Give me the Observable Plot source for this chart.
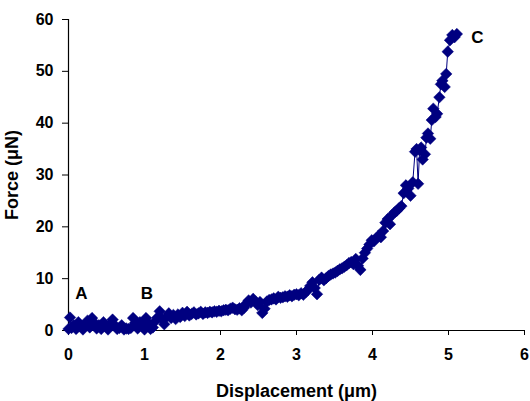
<!DOCTYPE html>
<html>
<head>
<meta charset="utf-8">
<script src="https://cdn.jsdelivr.net/npm/d3@7"></script>
<script src="https://cdn.jsdelivr.net/npm/@observablehq/plot@0.6"></script>
<style>
  html, body { margin: 0; padding: 0; background: #fff; }
  #chart svg { display: block; }
</style>
</head>
<body>
<div id="chart"></div>
<script>
const displacement = [
  0.00,0.02,0.04,0.07,0.10,0.13,0.16,0.19,0.22,0.25,0.28,0.31,0.34,0.37,0.40,0.43,0.46,0.49,0.52,0.55,
  0.58,0.61,0.64,0.67,0.70,0.73,0.76,0.79,0.82,0.85,0.88,0.91,0.94,0.97,1.00,1.02,1.05,1.08,1.11,1.14,
  1.17,1.20,1.23,1.26,1.29,1.32,1.35,1.38,1.41,1.44,1.47,1.50,1.53,1.56,1.59,1.62,1.65,1.68,1.71,1.74,
  1.77,1.80,1.83,1.86,1.89,1.92,1.95,1.98,2.01,2.04,2.07,2.10,2.13,2.16,2.19,2.22,2.25,2.28,2.31,2.34,
  2.37,2.40,2.43,2.46,2.49,2.52,2.55,2.58,2.61,2.64,2.67,2.70,2.73,2.76,2.79,2.82,2.85,2.88,2.91,2.94,
  2.97,3.00,3.03,3.06,3.09,3.12,3.15,3.18,3.21,3.24,3.27,3.30,3.33,3.36,3.39,3.42,3.45,3.48,3.51,3.54,
  3.57,3.60,3.63,3.66,3.69,3.72,3.75,3.78,3.81,3.84,3.87,3.90,3.93,3.96,3.99,4.02,4.05,4.08,4.11,4.14,
  4.17,4.20,4.23,4.26,4.29,4.32,4.35,4.38,4.41,4.44,4.47,4.50,4.53,4.56,4.58,4.60,4.62,4.64,4.66,4.69,
  4.71,4.73,4.76,4.78,4.80,4.83,4.85,4.88,4.90,4.92,4.95,4.97,4.99,5.02,5.05,5.08,5.11
];
const force = [
  0.3,2.5,0.5,1.0,0.3,1.6,0.8,0.2,1.2,1.9,0.6,2.4,1.5,0.4,1.0,0.3,1.6,0.8,0.2,1.2,
  2.1,1.0,0.3,0.5,1.0,0.2,0.4,0.3,0.5,2.4,1.5,0.4,1.6,0.8,0.2,2.4,1.4,0.3,0.6,1.8,
  2.5,3.7,2.2,1.2,2.6,3.3,2.4,3.0,2.2,3.1,2.6,3.4,2.8,3.6,2.9,3.2,3.5,3.1,3.3,3.6,
  3.2,3.5,3.4,3.6,3.5,3.7,3.6,3.8,3.7,3.9,4.0,3.9,4.2,4.4,4.1,4.0,4.3,3.9,4.4,5.2,
  5.8,5.4,6.1,5.6,4.9,5.5,3.4,4.2,5.6,5.9,6.0,6.2,6.0,6.5,6.3,6.4,6.6,6.5,6.8,6.6,
  6.9,7.0,6.8,7.2,6.9,7.4,7.8,8.6,9.3,8.2,7.0,9.8,10.2,9.7,10.1,10.5,10.8,11.0,11.2,11.5,
  11.8,12.0,12.3,12.6,13.0,13.2,12.8,13.8,12.5,11.7,13.9,15.0,15.8,16.6,17.4,17.2,17.8,18.3,18.0,19.2,
  20.8,21.5,20.5,22.3,22.8,23.1,23.6,24.0,26.5,28.0,27.4,26.0,28.6,34.5,35.0,28.3,34.8,35.3,33.0,34.0,
  37.2,38.0,37.0,40.6,42.8,41.2,41.8,45.0,47.5,48.2,47.0,49.5,53.8,56.0,57.0,56.6,57.2
];
const xTicks = [0, 1, 2, 3, 4, 5, 6];
const yTicks = [0, 10, 20, 30, 40, 50, 60];
const pointLabels = ["A", "B", "C"];
const labelX = [0.17, 1.03, 5.38];
const labelY = [7.1, 7.1, 56.6];

const points = displacement.map((d, i) => ({x: d, y: force[i]}));
const notes = pointLabels.map((t, i) => ({t, x: labelX[i], y: labelY[i]}));

const navy = "#000080";
const font = "'Liberation Sans', Arial, sans-serif";

const chart = Plot.plot({
  width: 530,
  height: 401,
  marginLeft: 68,
  marginRight: 6,
  marginTop: 19,
  marginBottom: 71,
  style: {fontFamily: font, fontSize: "16px", fontWeight: "bold", color: "#000", background: "#fff"},
  x: {domain: [0, 6]},
  y: {domain: [0, 60]},
  marks: [
    Plot.axisX({ticks: xTicks, tickFormat: d3.format("d"), tickSize: 5, tickPadding: 13, stroke: "#000", fontWeight: "bold", fontSize: 16,
      label: null}),
    Plot.axisY({ticks: yTicks, tickFormat: d3.format("d"), tickSize: 6, tickPadding: 9, stroke: "#000", fontWeight: "bold", fontSize: 16,
      label: null}),
    Plot.axisX({ticks: [], tickSize: 0, fontWeight: "bold", fontSize: 18,
      label: "Displacement (μm)", labelAnchor: "center", labelArrow: "none", labelOffset: 66}),
    Plot.axisY({ticks: [], tickSize: 0, fontWeight: "bold", fontSize: 18,
      label: "Force (μN)", labelAnchor: "center", labelArrow: "none", labelOffset: 63}),
    Plot.ruleX([0], {stroke: "#000", strokeWidth: 1.2}),
    Plot.ruleY([0], {stroke: "#000", strokeWidth: 1.2}),
    Plot.line(points, {x: "x", y: "y", stroke: navy, strokeWidth: 1}),
    Plot.dot(points, {x: "x", y: "y", symbol: "diamond2", r: 5.2, fill: navy, stroke: navy, strokeWidth: 0.5}),
    Plot.text(notes, {x: "x", y: "y", text: "t", fontSize: 17, fontWeight: "bold", fill: "#000"})
  ]
});
document.getElementById("chart").appendChild(chart);
</script>
</body>
</html>
